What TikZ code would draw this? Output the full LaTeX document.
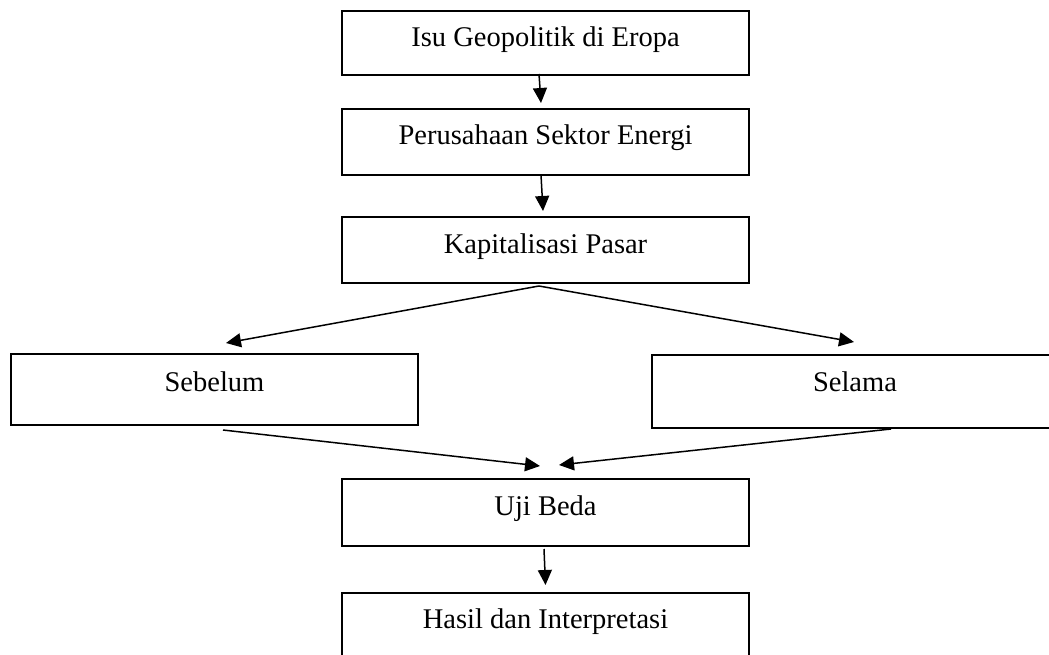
\documentclass[tikz,border=0pt]{standalone}
\usepackage{fontspec}
\setmainfont{Liberation Serif}
\usetikzlibrary{arrows.meta}
\begin{document}
\begin{tikzpicture}[x=1pt,y=-1pt,
  box/.style={draw=black, line width=2pt, anchor=north west, inner xsep=0pt, inner ysep=0pt,
    text height=36pt, font=\fontsize{28.5}{32}\selectfont, align=center},
  arr/.style={line width=1.5pt, -{Triangle[length=15pt,width=14pt]}}]
\useasboundingbox (0,0) rectangle (1049,655);
\fill[white] (0,0) rectangle (1049,655);
\node[box, minimum width=407pt, text depth=28pt] (b1) at (341,10) {Isu Geopolitik di Eropa};
\node[box, minimum width=407pt, text depth=30pt] (b2) at (341,108) {Perusahaan Sektor Energi};
\node[box, minimum width=407pt, text depth=30pt] (b3) at (341,216) {Kapitalisasi Pasar};
\node[box, minimum width=407pt, text height=37pt, text depth=34pt] (b4) at (10,353) {Sebelum};
\node[box, minimum width=406pt, text depth=37pt] (b5) at (651,354) {Selama};
\node[box, minimum width=407pt, text depth=31pt] (b6) at (341,478) {Uji Beda};
\node[box, minimum width=407pt, text height=35pt, text depth=33pt] (b7) at (341,592) {Hasil dan Interpretasi};
\draw[arr] ([xshift=-6.5pt,yshift=2pt]b1.south) -- ([xshift=-4.5pt,yshift=5pt]b2.north);
\draw[arr] ([xshift=-4.5pt,yshift=1pt]b2.south) -- ([xshift=-2.5pt,yshift=5pt]b3.north);
\coordinate (apex) at ([xshift=-6.5pt,yshift=-2pt]b3.south);
\draw[arr] (apex) -- ([xshift=11.5pt,yshift=10pt]b4.north);
\draw[arr] (apex) -- ([xshift=-1pt,yshift=12pt]b5.north);
\draw[arr] ([xshift=8.5pt,yshift=-4pt]b4.south) -- ([xshift=-5.5pt,yshift=12pt]b6.north);
\draw[arr] ([xshift=36pt,yshift=0pt]b5.south) -- ([xshift=13.5pt,yshift=13pt]b6.north);
\draw[arr] ([xshift=-1.5pt,yshift=-2pt]b6.south) -- ([xshift=0pt,yshift=7pt]b7.north);
\end{tikzpicture}
\end{document}
